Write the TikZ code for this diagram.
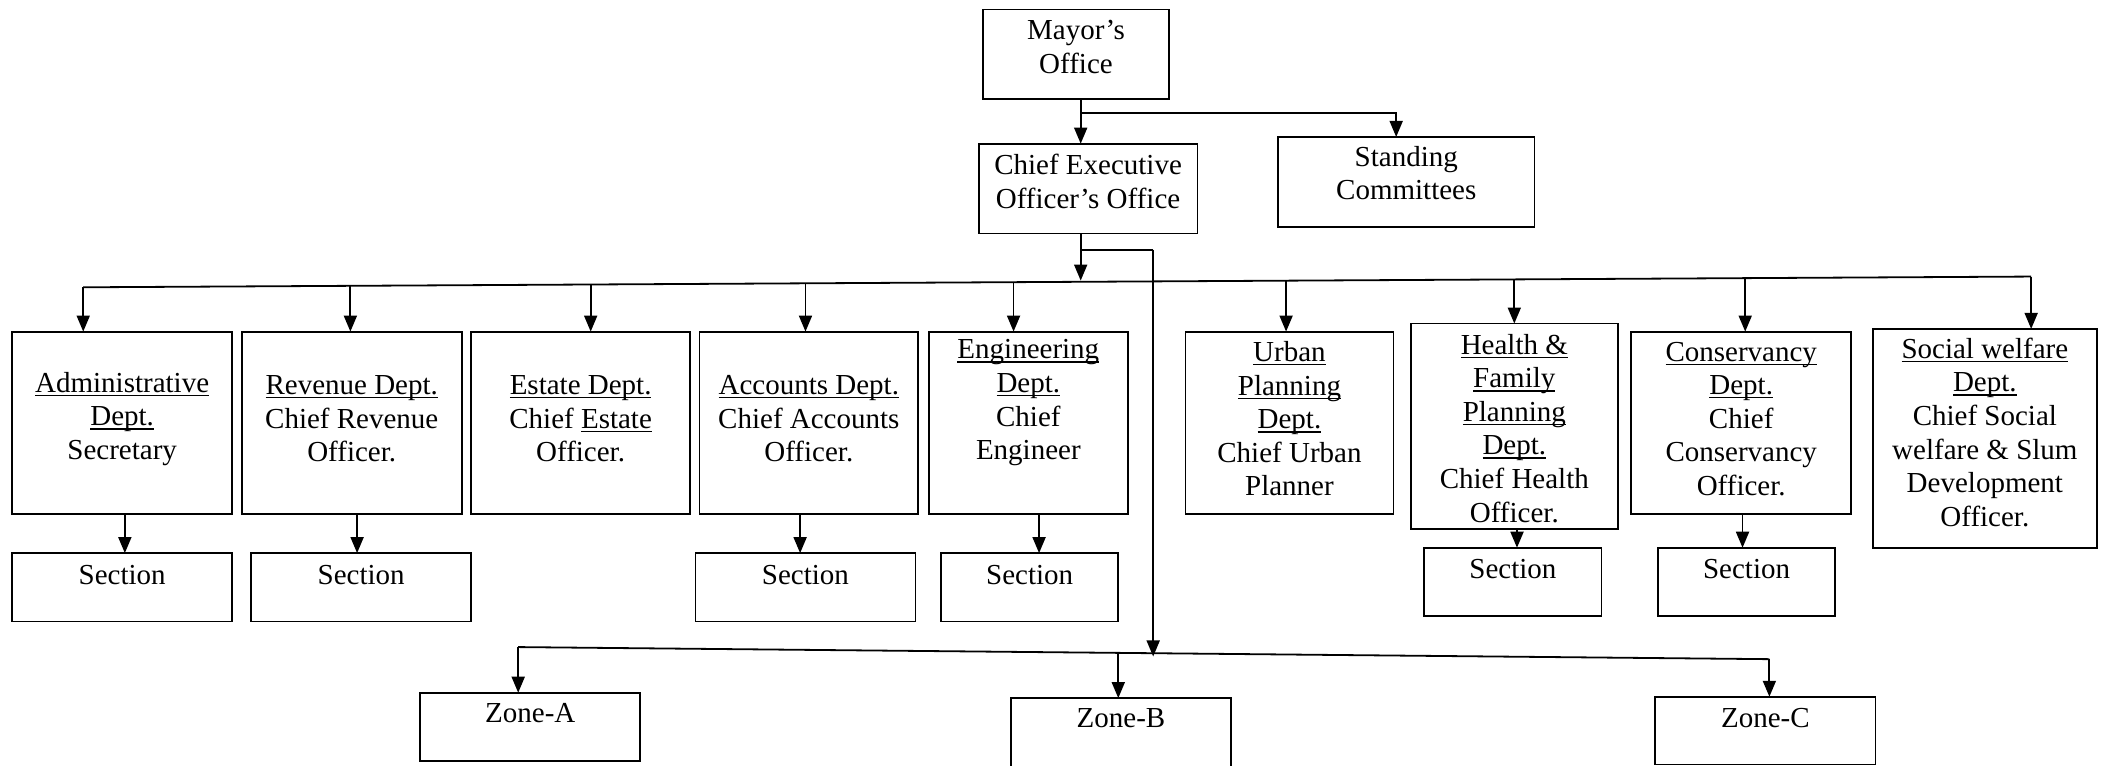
\documentclass[tikz,border=0pt]{standalone}
\usepackage{fontspec}
\setmainfont{Liberation Serif}
\usetikzlibrary{arrows.meta,calc}
\tikzset{
  box/.style={draw, line width=0.9pt, inner sep=0pt, outer sep=0pt, rectangle},
  txt/.style={align=center, inner sep=0pt, font=\fontsize{14.5}{16.8}\selectfont},
  arr/.style={line width=0.9pt, -{Triangle[length=8pt,width=6.5pt]}},
  ln/.style={line width=0.9pt},
}
\newcommand{\ul}[1]{\setbox0\hbox{#1}\rlap{\rule[-1.9pt]{\wd0}{0.65pt}}\box0}
\newcommand{\obox}[7]{%
  \node[box, minimum width={(#4-#2)*0.6712pt}, minimum height={(#5-#3)*0.6712pt}] (#1) at ({(#2+#4)/2},{(#3+#5)/2}) {};
  \node[txt] (#1t) at ({(#2+#4)/2},#6) {#7};
}
\begin{document}
\begin{tikzpicture}[x=0.6712pt, y=-0.6712pt]
\useasboundingbox (0,0) rectangle (1568,570);
% top
\obox{mayor}{732}{7}{871}{74}{35}{Mayor's\\Office}
\obox{ceo}{729}{107}{892}{174}{135}{Chief Executive\\Officer's Office}
\obox{stand}{952}{102}{1143}{169}{129}{Standing\\Committees}
% departments
\obox{admin}{9}{247}{173}{383}{312}{\ul{Administrative}\\\ul{Dept.}\\Secretary}
\obox{rev}{180}{247}{344}{383}{312}{\ul{Revenue Dept.}\\Chief Revenue\\Officer.}
\obox{est}{351}{247}{514}{383}{312}{\ul{Estate Dept.}\\Chief \ul{Estate}\\Officer.}
\obox{acc}{521}{247}{684}{383}{312}{\ul{Accounts Dept.}\\Chief Accounts\\Officer.}
\obox{eng}{692}{247}{840}{383}{300}{\ul{Engineering}\\\ul{Dept.}\\Chief\\Engineer}
\obox{urb}{883}{247}{1038}{383}{312}{\ul{Urban}\\\ul{Planning}\\\ul{Dept.}\\Chief Urban\\Planner}
\obox{hlt}{1051}{241}{1205}{394}{319}{\ul{Health \&}\\\ul{Family}\\\ul{Planning}\\\ul{Dept.}\\Chief Health\\Officer.}
\obox{con}{1215}{247}{1379}{383}{312}{\ul{Conservancy}\\\ul{Dept.}\\Chief\\Conservancy\\Officer.}
\obox{soc}{1395}{245}{1562}{408}{322}{\ul{Social welfare}\\\ul{Dept.}\\Chief Social\\welfare \& Slum\\Development\\Officer.}
% sections
\obox{sadm}{9}{412}{173}{463}{428}{Section}
\obox{srev}{187}{412}{351}{463}{428}{Section}
\obox{sacc}{518}{412}{682}{463}{428}{Section}
\obox{seng}{701}{412}{833}{463}{428}{Section}
\obox{shlt}{1061}{408}{1193}{459}{424}{Section}
\obox{scon}{1235}{408}{1367}{459}{424}{Section}
% zones
\obox{za}{313}{516}{477}{567}{531}{Zone-A}
\obox{zb}{753}{520}{917}{573}{535}{Zone-B}
\obox{zc}{1233}{519}{1397}{569.5}{535}{Zone-C}
% mayor connectors
\coordinate (m1) at (805,84);
\coordinate (m2) at (1040,84);
\draw[arr] (mayor.south -| m1) -- (ceo.north -| m1);
\draw[arr] (m1) -- (m2) -- (m2 |- stand.north);
% ceo connectors
\coordinate (c1) at (805,186);
\coordinate (c2) at (859,186);
\coordinate (bceo) at (805,209);
\coordinate (zceo) at (859,489);
\draw[arr] (ceo.south -| c1) -- (bceo);
\draw[ln] (c1) -- (c2);
\draw[arr] (c2) -- (zceo);
% department bus
\coordinate (busL) at (62,214);
\coordinate (busR) at (1513,206);
\draw[ln] (busL) -- (busR);
\foreach \n/\x/\y in {admin/62/214, rev/261/212.9, est/440/211.9, acc/600/211, eng/755/210.2, urb/958/209.1, hlt/1128/208.1, con/1300/207.2, soc/1513/206}
  \draw[arr] (\x,\y) -- (\x,0 |- \n.north);
% section connectors
\foreach \a/\b/\x in {admin/sadm/93, rev/srev/266, acc/sacc/596, eng/seng/774, hlt/shlt/1130, con/scon/1298}
  \draw[arr] (\x,0 |- \a.south) -- (\x,0 |- \b.north);
% zone bus
\coordinate (zL) at (386,482);
\coordinate (zB) at (833,486.3);
\coordinate (zR) at (1318,491);
\draw[ln] (zL) -- (zR);
\draw[arr] (zL) -- (zL |- za.north);
\draw[arr] (zB) -- (zB |- zb.north);
\draw[arr] (zR) -- (zR |- zc.north);
\end{tikzpicture}
\end{document}
